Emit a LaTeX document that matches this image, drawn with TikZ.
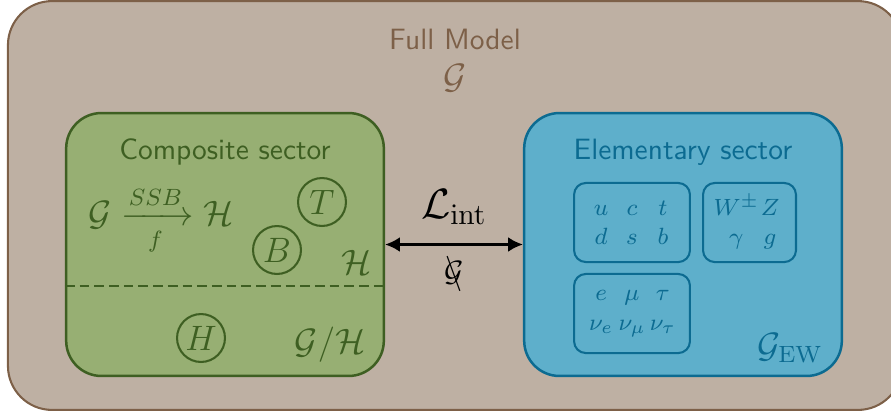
\documentclass[tikz,border=0pt]{standalone}
\usepackage{amsmath}
\usepackage{amssymb}
\usetikzlibrary{arrows.meta}
\usetikzlibrary{positioning}
\definecolor{fullfill}{HTML}{BEB0A3}
\definecolor{fulldraw}{HTML}{7D6048}
\definecolor{compfill}{HTML}{97AF73}
\definecolor{compdraw}{HTML}{3E5F22}
\definecolor{elemfill}{HTML}{5EAFCB}
\definecolor{elemdraw}{HTML}{0C6B91}
\tikzset{>={Latex[length=5pt,width=5pt]}, font=\sffamily}
\tikzstyle{model} = [draw=fulldraw, fill=fullfill, rounded corners=15pt, line width=0.7pt, minimum width=304pt, minimum height=139pt]
\tikzstyle{sector} = [rounded corners=12pt, line width=0.85pt, minimum width=108pt, minimum height=89.4pt]
\tikzstyle{family} = [draw=elemdraw, rounded corners=4pt, line width=0.7pt, minimum height=26.9pt, inner sep=0pt, text=elemdraw, align=center, font=\fontsize{8.5}{10}\selectfont]
\tikzstyle{particle} = [draw=compdraw, circle, line width=0.7pt, minimum size=16.3pt, inner sep=0pt, text=compdraw, font=\large]
% one column of a particle table
\newcommand{\pcol}[2][10.5pt]{\makebox[#1]{$#2$}}
% group that is not kept
\newcommand{\brokeng}{\ooalign{$\mathcal{G}$\cr\hidewidth$\big\backslash$\hidewidth\cr}}

\begin{document}
\begin{tikzpicture}[x=0.34pt, y=-0.34pt]
	\useasboundingbox (0,0) rectangle (891,416);

	\node [model] (full) at (455,205.5) {};
	\node [text=fulldraw] (title) at (455,39) {Full Model};
	\node [text=fulldraw, font=\large] (gfull) at (455,78) {$\mathcal{G}$};

	% composite side
	\node [sector, draw=compdraw, fill=compfill] (comp) at (225,244.5) {};
	\node [text=compdraw] (comptitle) at (225,152) {Composite sector};
	\node [text=compdraw, font=\large] (ssb) at (161,221) {$\mathcal{G} \xrightarrow[f]{SSB} \mathcal{H}$};
	\node [particle] (top) at (322,202) {$T$};
	\node [particle] (bottom) at (277,250) {$B$};
	\node [particle] (higgs) at (201,338) {$H$};
	\node [text=compdraw, font=\large] (hgroup) at (357,262) {$\mathcal{H}$};
	\node [text=compdraw, font=\large] (coset) at (330,345) {$\mathcal{G}/\mathcal{H}$};
	\coordinate (cut) at (0,286);
	\draw [compdraw, line width=0.85pt, dash pattern=on 3.3pt off 1.7pt] (comp.west |- cut) -- (comp.east |- cut);

	% elementary side
	\node [sector, draw=elemdraw, fill=elemfill] (elem) at (683,244.5) {};
	\node [text=elemdraw] (elemtitle) at (683,152) {Elementary sector};
	\node [family, minimum width=39.4pt] (quarks) at (632,222.5) {\pcol{u}\pcol{c}\pcol{t}\\ \pcol{d}\pcol{s}\pcol{b}};
	\node [family, minimum width=31.6pt] (bosons) at (749.5,222.5) {\pcol[14pt]{W^\pm}\pcol[9pt]{Z}\\ \pcol[14pt]{\gamma}\pcol[9pt]{g}};
	\node [family, minimum width=39.4pt] (leptons) at (632,313.5) {\pcol{e}\pcol{\mu}\pcol{\tau}\\ \pcol{\nu_e}\pcol{\nu_\mu}\pcol{\nu_\tau}};
	\node [text=elemdraw, font=\large] (gew) at (790,348) {$\mathcal{G}_{\mathrm{EW}}$};

	\draw [<->, line width=0.85pt] (comp) -- node [above=3pt, font=\Large] {$\mathcal{L}_{\mathrm{int}}$} node [below=2pt] {$\brokeng$} (elem);
\end{tikzpicture}
\end{document}
